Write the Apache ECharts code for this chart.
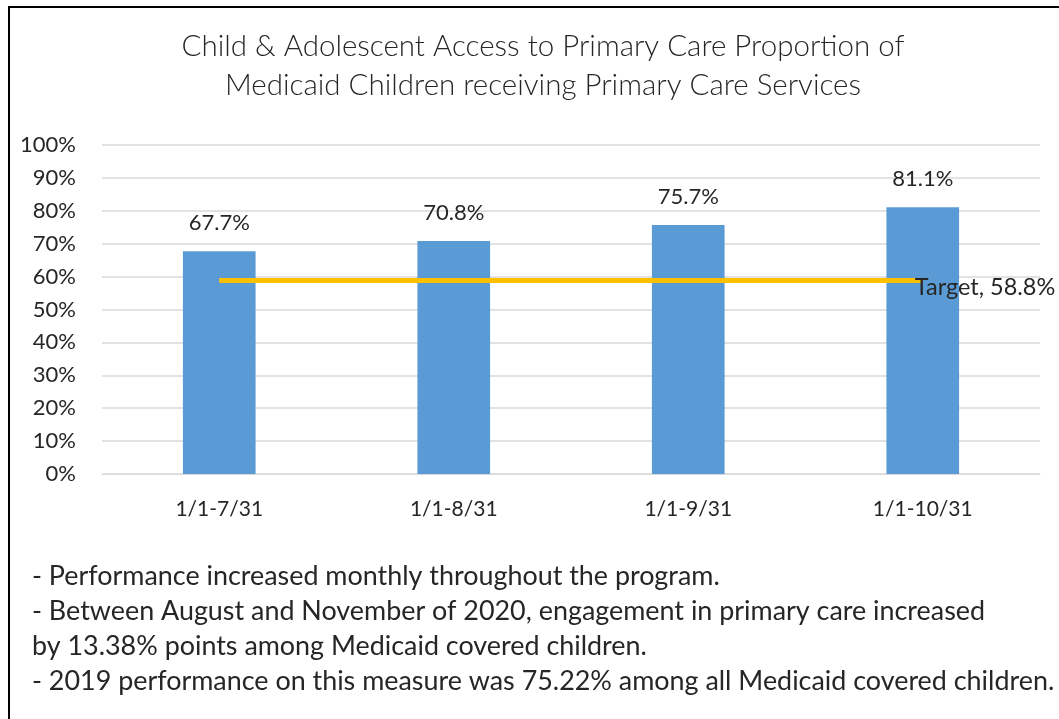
<!DOCTYPE html>
<html>
<head>
<meta charset="utf-8">
<script src="https://cdn.jsdelivr.net/npm/echarts@6/dist/echarts.min.js"></script>
<style>
  html, body { margin: 0; padding: 0; background: #fff; }
  #chart { width: 1059px; height: 719px; }
</style>
</head>
<body>
<div id="chart"></div>
<script>
const categories = ["1/1-7/31", "1/1-8/31", "1/1-9/31", "1/1-10/31"];
const proportion = [67.7, 70.8, 75.7, 81.1];
const target = [58.8, 58.8, 58.8, 58.8];
const titleLines = [
  "Child & Adolescent Access to Primary Care Proportion of",
  "Medicaid Children receiving Primary Care Services"
];
const notes = [
  "- Performance increased monthly throughout the program.",
  "- Between August and November of 2020, engagement in primary care increased",
  "by 13.38% points among Medicaid covered children.",
  "- 2019 performance on this measure was 75.22% among all Medicaid covered children."
];

const font = "Lato, 'Open Sans', sans-serif";
const textColor = "#262626";

const myChart = echarts.init(document.getElementById("chart"));

const noteText = notes.map(function (line, i) {
  return {
    type: "text",
    x: 32,
    y: 576 + i * 35,
    style: { text: line, font: "26.9px " + font, fill: textColor, verticalAlign: "middle" }
  };
});

const option = {
  animation: false,
  title: {
    text: titleLines.join("\n"),
    left: 538,
    top: 22,
    textAlign: "center",
    textStyle: {
      fontFamily: font,
      fontSize: 29.5,
      fontWeight: 300,
      lineHeight: 39,
      color: textColor
    }
  },
  grid: { left: 102, right: 19, top: 145, bottom: 245 },
  xAxis: {
    type: "category",
    data: categories,
    axisLine: { show: true, lineStyle: { color: "#d9d9d9" } },
    axisTick: { show: false },
    axisLabel: { fontFamily: font, fontSize: 21, color: textColor, margin: 25 }
  },
  yAxis: {
    type: "value",
    min: 0,
    max: 100,
    interval: 10,
    axisLabel: { formatter: "{value}%", fontFamily: font, fontSize: 22, color: textColor, margin: 26 },
    splitLine: { lineStyle: { color: "#d9d9d9", width: 1.5 } },
    axisLine: { show: false },
    axisTick: { show: false }
  },
  series: [
    {
      name: "Proportion",
      type: "bar",
      data: proportion,
      barWidth: "31%",
      itemStyle: { color: "#5b9bd5" },
      label: {
        show: true,
        position: "top",
        distance: 17,
        formatter: "{c}%",
        fontFamily: font,
        fontSize: 22,
        color: textColor
      }
    },
    {
      name: "Target",
      type: "line",
      data: target,
      symbol: "none",
      lineStyle: { color: "#ffc000", width: 5 },
      endLabel: {
        show: true,
        distance: -8,
        offset: [0, 7],
        formatter: function (p) { return "Target, " + p.value + "%"; },
        fontFamily: font,
        fontSize: 23.5,
        color: textColor
      },
      z: 3
    }
  ],
  graphic: [
    {
      type: "rect",
      shape: { x: 9, y: 7, width: 1200, height: 800 },
      style: { fill: "none", stroke: "#000", lineWidth: 2 },
      silent: true
    }
  ].concat(noteText)
};

option && myChart.setOption(option);
</script>
</body>
</html>
